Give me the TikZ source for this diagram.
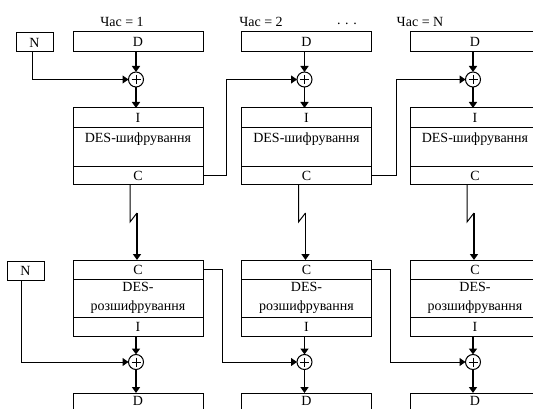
\documentclass[tikz,border=0pt]{standalone}
\usepackage{fontspec}
\setmainfont{Liberation Serif}
\usetikzlibrary{arrows.meta}
\begin{document}
\begin{tikzpicture}[x=1pt,y=-1pt,
  box/.style={draw, line width=1pt, minimum width=130pt, inner sep=0pt, outer sep=0pt, anchor=north west, font=\fontsize{14}{15}\selectfont},
  nbox/.style={draw, line width=1pt, minimum width=37pt, minimum height=19pt, inner sep=0pt, outer sep=0pt, anchor=north west, font=\fontsize{14}{15}\selectfont},
  xor/.style={draw, circle, minimum size=15pt, inner sep=0pt, outer sep=0pt, line width=1pt},
  thinline/.style={line width=1pt},
  tharrow/.style={line width=1.8pt, -{Triangle[width=8pt,length=6pt]}},
  tnarrow/.style={line width=1pt, -{Triangle[width=8pt,length=6pt]}},
  lbl/.style={font=\fontsize{14}{15}\selectfont, inner sep=0pt}
]
\useasboundingbox (0,0) rectangle (533,409);
\clip (0,0) rectangle (533,409);

% headers
\node[lbl] (h1) at (122,22) {Час = 1};
\node[lbl] (h2) at (261,22) {Час = 2};
\node[lbl] (dots) at (347,24) {. . .};
\node[lbl] (h3) at (420,22) {Час = N};

% N boxes
\node[nbox] (N1) at (16,33) {N};
\node[nbox] (N2) at (7,261) {N};

\foreach \i/\x in {1/73,2/241.5,3/410}{
  % top row
  \node[box, minimum height=20pt] (D\i) at (\x,32) {D};
  \node[xor] (X\i) at (\x+63,79.5) {};
  \draw[thinline] (X\i.center) ++(-4.5,0) -- ++(9,0);
  \draw[thinline] (X\i.center) ++(0,-4.5) -- ++(0,9);
  \node[box, minimum height=20pt] (I\i) at (\x,108) {I};
  \node[box, minimum height=39pt] (E\i) at (\x,128) {};
  \node[lbl] (Et\i) at (\x+65,139) {DES-шифрування};
  \node[box, minimum height=18pt] (C\i) at (\x,167) {C};
  \draw[tharrow] (D\i.south -| X\i) -- (X\i.north);
  \draw[tharrow] (X\i.south) -- (X\i |- I\i.north);
  % bottom row
  \node[box, minimum height=19pt] (DC\i) at (\x,260) {C};
  \node[box, minimum height=38pt, align=center, font=\fontsize{14}{19}\selectfont] (DM\i) at (\x,279) {DES-\\розшифрування};
  \node[box, minimum height=19pt] (DI\i) at (\x,317) {I};
  \node[xor] (XB\i) at (\x+63,362) {};
  \draw[thinline] (XB\i.center) ++(-4.5,0) -- ++(9,0);
  \draw[thinline] (XB\i.center) ++(0,-4.5) -- ++(0,9);
  \node[box, minimum height=20pt, text depth=0pt, anchor=north west] (DB\i) at (\x,393) {};
  \node[lbl, anchor=north] (DBt\i) at ([yshift=-3pt]DB\i.north) {D};
  \draw[tharrow] (DI\i.south -| XB\i) -- (XB\i.north);
  \draw[tharrow] (XB\i.south) -- (XB\i |- DB\i.north);
  % zigzag link
  \coordinate (Z\i) at (\x+64,213);
  \draw[thinline] ([xshift=-8pt]C\i.south) -- ++(0,37) -- (Z\i);
  \draw[tharrow] (Z\i) -- (Z\i |- DC\i.north);
}

% N inputs
\draw[tnarrow] ([xshift=-2pt]N1.south) |- (X1.west);
\draw[tnarrow] ([xshift=-4pt]N2.south) |- (XB1.west);

% chaining between columns
\draw[tnarrow] (C1.east) -- ++(23,0) |- (X2.west);
\draw[tnarrow] (C2.east) -- ++(25,0) |- (X3.west);
\draw[tnarrow] (DC1.east) -- ++(19,0) |- (XB2.west);
\draw[tnarrow] (DC2.east) -- ++(19,0) |- (XB3.west);
\end{tikzpicture}
\end{document}
